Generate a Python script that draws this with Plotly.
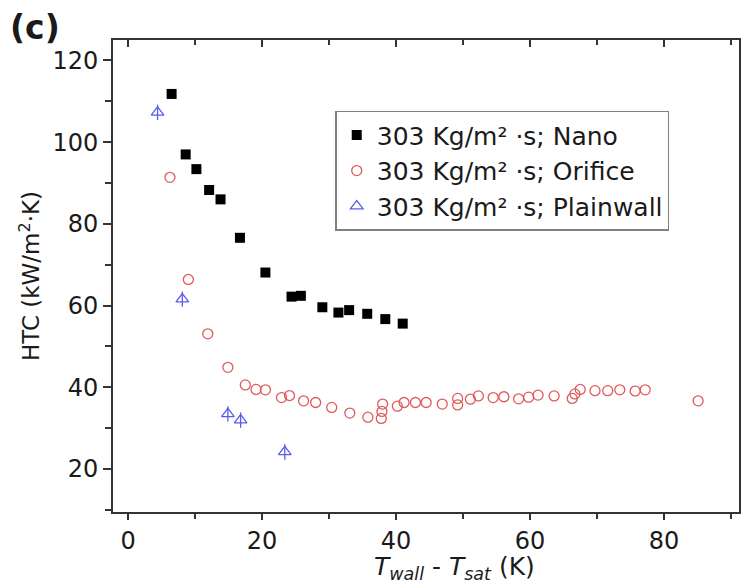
import plotly.graph_objects as go

# Nano (black squares)
nano_x = [6.5, 8.6, 10.2, 12.1, 13.8, 16.7, 20.5, 24.4, 25.8, 29.0, 31.4, 33.0, 35.7, 38.4, 41.0]
nano_y = [111.8, 97.0, 93.4, 88.3, 86.0, 76.6, 68.1, 62.2, 62.4, 59.6, 58.3, 58.9, 58.0, 56.7, 55.6]

# Orifice (red open circles)
orif_x = [6.25, 9.0, 11.9, 14.9, 17.5, 19.1, 20.5, 22.9, 24.1, 26.2, 28.0, 30.4, 33.1, 35.8,
          37.8, 37.9, 38.0, 40.2, 41.2, 42.9, 44.5, 46.9, 49.2, 49.2, 51.1, 52.3, 54.5, 56.1,
          58.3, 59.8, 61.2, 63.6, 66.3, 66.7, 67.5, 69.7, 71.6, 73.4, 75.7, 77.2, 85.1]
orif_y = [91.4, 66.4, 53.1, 44.9, 40.6, 39.5, 39.4, 37.5, 38.0, 36.7, 36.3, 35.1, 33.7, 32.7,
          32.4, 34.1, 35.9, 35.4, 36.3, 36.3, 36.3, 35.9, 37.3, 35.7, 37.1, 37.9, 37.5, 37.7,
          37.2, 37.6, 38.1, 37.9, 37.3, 38.4, 39.5, 39.2, 39.2, 39.4, 39.1, 39.4, 36.7]

# Plainwall (blue triangles)
plain_x = [4.4, 8.1, 14.9, 16.8, 23.4]
plain_y = [107.3, 61.6, 33.5, 32.0, 24.2]

series_names = ["303 Kg/m² ·s; Nano", "303 Kg/m² ·s; Orifice", "303 Kg/m² ·s; Plainwall"]

x_range = [-2.25, 91.2]
y_range = [9.5, 125]

FONT = "DejaVu Sans"
RED = "#e05a5a"
BLUE = "#5b5bf0"
TXT = "#1a1a1a"

fig = go.Figure()
fig.add_trace(go.Scatter(x=nano_x, y=nano_y, mode="markers", name=series_names[0],
                         marker=dict(symbol="square", size=10, color="black")))
fig.add_trace(go.Scatter(x=orif_x, y=orif_y, mode="markers", name=series_names[1],
                         marker=dict(symbol="circle-open", size=10, color=RED,
                                     line=dict(width=1.3, color=RED))))
fig.add_trace(go.Scatter(x=plain_x, y=plain_y, mode="markers", name=series_names[2],
                         marker=dict(symbol="triangle-up-open", size=11, color=BLUE,
                                     line=dict(width=1.3, color=BLUE))))
fig.add_trace(go.Scatter(x=plain_x, y=plain_y, mode="markers", showlegend=False,
                         hoverinfo="skip",
                         marker=dict(symbol="line-ns-open", size=11, color=BLUE,
                                     line=dict(width=1.3, color=BLUE))))
# dummy trace for top axis ticks
fig.add_trace(go.Scatter(x=[None], y=[None], xaxis="x2", showlegend=False, hoverinfo="skip"))

axis_color = "#333333"
fig.update_layout(
    width=743, height=585,
    margin=dict(l=113, r=2, t=40, b=73),
    paper_bgcolor="white", plot_bgcolor="white",
    font=dict(family=FONT, size=22, color=TXT),
    showlegend=True,
    legend=dict(x=0.355, y=0.85, xanchor="left", yanchor="top",
                bgcolor="white", bordercolor="#808080", borderwidth=1.5,
                font=dict(family=FONT, size=25, color=TXT),
                tracegroupgap=0, itemsizing="trace"),
    xaxis=dict(range=x_range, showgrid=False, zeroline=False,
               showline=True, linecolor=axis_color, linewidth=2, mirror=True,
               ticks="outside", ticklen=6, tickwidth=1.5, tickcolor=axis_color,
               tick0=0, dtick=20,
               minor=dict(ticks="outside", ticklen=5, tickwidth=1.5, tickcolor=axis_color, dtick=10),
               tickfont=dict(family=FONT, size=24)),
    xaxis2=dict(range=x_range, overlaying="x", side="top", showgrid=False, zeroline=False,
                showticklabels=False, ticks="inside", ticklen=7, tickwidth=1.5,
                tickcolor=axis_color, tick0=0, dtick=20,
                minor=dict(ticks="inside", ticklen=5, tickwidth=1.5, tickcolor=axis_color, dtick=10)),
    yaxis=dict(range=y_range, showgrid=False, zeroline=False,
               showline=True, linecolor=axis_color, linewidth=2, mirror=True,
               ticks="outside", ticklen=8, tickwidth=1.5, tickcolor=axis_color,
               tick0=0, dtick=20,
               minor=dict(ticks="outside", ticklen=6, tickwidth=1.5, tickcolor=axis_color, dtick=10),
               tickfont=dict(family=FONT, size=24),
               title=dict(text="HTC (kW/m<sup>2</sup>·K)", font=dict(family=FONT, size=23),
                          standoff=6)),
)

fig.add_annotation(text="<i>T</i><sub><i>wall</i></sub> - <i>T</i><sub><i>sat</i></sub> (K)",
                   xref="paper", yref="paper", x=0.545, y=-0.156,
                   xanchor="center", yanchor="bottom", showarrow=False,
                   font=dict(family=FONT, size=25, color=TXT))
fig.add_annotation(text="<b>(c)</b>", xref="paper", yref="paper",
                   x=-0.168, y=1.072, xanchor="left", yanchor="top", showarrow=False,
                   font=dict(family=FONT, size=33, color=TXT))

fig.write_html("out.html")
